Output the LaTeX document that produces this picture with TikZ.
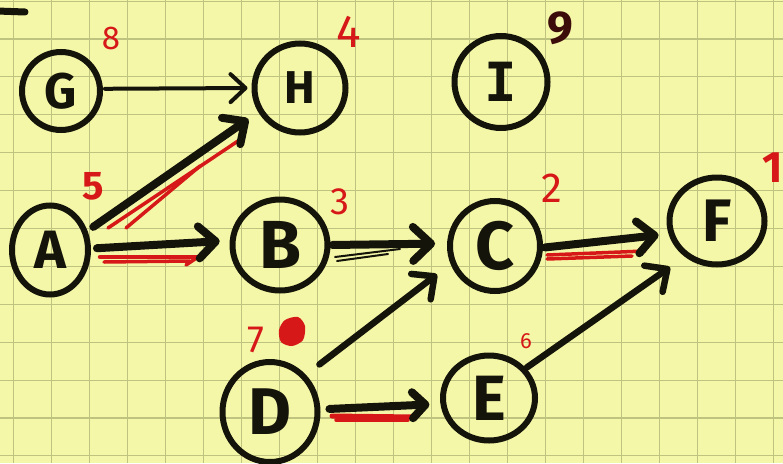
\documentclass[tikz,border=0pt]{standalone}
\usepackage{fontspec}
\setmainfont{Fira Sans}
\newfontfamily\monofnt{DejaVu Sans Mono}
\usetikzlibrary{shapes.geometric,arrows.meta}
\definecolor{paper}{RGB}{245,247,168}
\definecolor{gridc}{RGB}{190,196,128}
\definecolor{ink}{RGB}{20,20,10}
\definecolor{mred}{RGB}{214,24,24}
\definecolor{darkred}{RGB}{60,12,10}
\tikzset{
  nd/.style={draw=ink, line width=6pt, ellipse, inner sep=0pt, text=ink,
    font=\fontsize{#1}{#1}\selectfont\bfseries},
  thickarr/.style={draw=ink, line width=8pt, line cap=round,
    -{Straight Barb[length=17pt,width=32pt,round]}},
  medarr/.style={draw=ink, line width=6.5pt, line cap=round,
    -{Straight Barb[length=17pt,width=32pt,round]}},
  thinarr/.style={draw=ink, line width=4pt, line cap=round,
    -{Straight Barb[length=15pt,width=28pt,round]}},
  hl/.style={draw=mred, line width=3.5pt, line cap=round},
  strand/.style={draw=ink, line width=2pt, line cap=round},
  num/.style={text=mred, inner sep=0pt, font=\fontsize{#1}{#1}\selectfont},
  gridline/.style={draw=gridc, line width=1.1pt},
}
\begin{document}
\begin{tikzpicture}[x=1pt,y=-1pt]
\useasboundingbox (0,0) rectangle (783,463);
\fill[paper] (0,0) rectangle (783,463);
\foreach \k in {0,...,20} {\draw[gridline] ({13.3+38.03*\k},0) -- ({13.3+38.03*\k},463);}
\foreach \k in {0,...,12} {\draw[gridline] (0,{1.1+37.9*\k}) -- (783,{1.1+37.9*\k});}

% stray mark top-left
\draw[ink, line width=7pt, line cap=round] (-3,11) -- (25,12);

% nodes
\node[nd=50, minimum width=78pt, minimum height=78pt] (G) at (61,91) {G};
\node[nd=46, minimum width=91pt, minimum height=89pt] (H) at (300,88) {H};
\node[nd=54, minimum width=93pt, minimum height=92pt] (I) at (501,82) {\monofnt\bfseries I};
\node[nd=54, minimum width=76pt, minimum height=89pt] (A) at (50,250) {A};
\node[nd=68, minimum width=95pt, minimum height=91pt] (B) at (280,245) {B};
\node[nd=68, minimum width=90pt, minimum height=90pt] (C) at (495,246) {C};
\node[nd=60, minimum width=95pt, minimum height=87pt] (F) at (717,221) {F};
\node[nd=66, minimum width=95pt, minimum height=100pt] (D) at (270,412) {D};
\node[nd=64, minimum width=92pt, minimum height=85pt] (E) at (489,398) {E};

% red highlight strokes (drawn under the black arrows)
\draw[hl] (108,228) -- (238,141);
\draw[hl] (126,228) -- (200,166);
\draw[hl, line width=4.5pt] (100,257) -- (198,257);
\draw[hl] (104,262) -- (190,261);
\draw[hl] (198,257) -- (186,265);
\draw[hl] (547,255) -- (645,251);
\draw[hl] (547,259) -- (632,256);
\draw[hl, line width=5pt] (332,416) -- (415,417);
\draw[hl] (336,420) -- (408,420);

% connectors
\draw[thinarr, shorten <=2pt, shorten >=4pt] (G.3) -- (H.180);
\draw[thickarr, shorten <=7pt, shorten >=12pt] (A.27) -- (H.210);
\draw[thickarr, shorten <=6pt, shorten >=10pt] (A.2) -- (B.175);
\draw[thickarr, shorten <=2pt, shorten >=12pt,
      -{Straight Barb[length=18pt,width=34pt,round]}] (B.0) -- (C.177);
\draw[strand] (335,257) -- (400,249);
\draw[strand] (337,261) -- (388,254);
\draw[thickarr, shorten <=2pt, shorten >=10pt] (C.358) -- (F.195);
\draw[medarr, shorten <=17pt, shorten >=17pt] (D.46) -- (C.202);
\draw[thickarr, shorten <=9pt, shorten >=11pt,
      -{Straight Barb[length=13pt,width=26pt,round]}] (D.3) -- (E.187);
\draw[medarr, shorten <=1pt, shorten >=18pt] (E.39) -- (F.228);

% numbers
\node[num=33] (n8) at (111,38) {8};
\node[num=46] (n4) at (349,32) {4};
\node[num=46, font=\fontsize{46}{46}\selectfont\bfseries, text=darkred] (n9) at (560,28) {9};
\node[num=40, font=\fontsize{40}{40}\selectfont\bfseries] (n5) at (93,186) {5};
\node[num=38] (n3) at (340,202) {3};
\node[num=42] (n2) at (552,188) {2};
\node[num=44, font=\fontsize{44}{44}\selectfont\bfseries, anchor=east] (n1) at (783,168) {1};
\node[num=38] (n7) at (256,340) {7};
\fill[mred] plot[smooth cycle] coordinates {(285,320) (298,317) (305,326) (303,340) (292,346) (281,342) (279,330)};
\node[num=22] (n6) at (526,341) {6};
\end{tikzpicture}
\end{document}
